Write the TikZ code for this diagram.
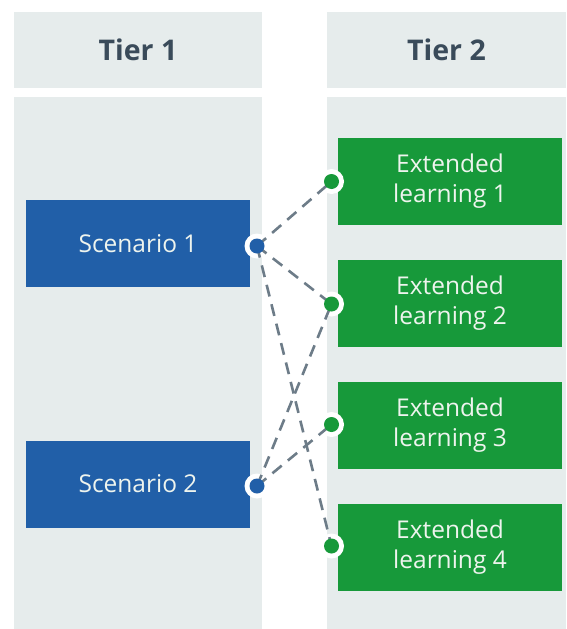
\documentclass[tikz,border=0pt]{standalone}
\usepackage{fontspec}
\setmainfont{Open Sans}
\definecolor{bgc}{HTML}{E6ECEC}
\definecolor{bluec}{HTML}{215FA8}
\definecolor{greenc}{HTML}{17993A}
\definecolor{linec}{HTML}{6D7C88}
\definecolor{headtext}{HTML}{3A4B5A}
\definecolor{boxtext}{HTML}{EEF4EE}
\begin{document}
\begin{tikzpicture}[x=1pt,y=-1pt,
  colbg/.style={fill=bgc,draw=none},
  header/.style={fill=bgc,draw=none,inner sep=0,minimum height=76pt,text=headtext,font=\fontsize{28.5}{30}\selectfont\bfseries},
  card/.style={draw=none,inner sep=0,minimum width=224pt,minimum height=87pt,text=boxtext,align=center,font=\fontsize{24.5}{30.5}\selectfont},
  scen/.style={card,fill=bluec},
  ext/.style={card,fill=greenc},
  link/.style={draw=linec,line width=2.6pt,dash pattern=on 12pt off 8pt},
  halo/.style={circle,fill=white,draw=none,minimum size=25pt,inner sep=0},
  bdot/.style={circle,fill=bluec,draw=none,minimum size=15pt,inner sep=0},
  gdot/.style={circle,fill=greenc,draw=none,minimum size=15pt,inner sep=0}]
\useasboundingbox (0,0) rectangle (566,629);
\fill[white] (0,0) rectangle (566,629);
% headers
\node[header,minimum width=248pt] (h1) at (138,50) {Tier 1};
\node[header,minimum width=239pt] (h2) at (446.5,50) {Tier 2};
% column bodies
\fill[bgc] (14,97) rectangle (262,629);
\fill[bgc] (327,97) rectangle (566,629);
% boxes
\node[scen] (s1) at (138,243.5) {Scenario 1};
\node[scen] (s2) at (138,484) {Scenario 2};
\node[ext] (e1) at (450,181) {Extended\\learning 1};
\node[ext] (e2) at (450,303) {Extended\\learning 2};
\node[ext] (e3) at (450,425) {Extended\\learning 3};
\node[ext] (e4) at (450,547) {Extended\\learning 4};
% connector points
\coordinate (p1) at (257,246);
\coordinate (p2) at (257,486);
\coordinate (q1) at (331.5,181.5);
\coordinate (q2) at (331.5,304);
\coordinate (q3) at (331.5,424.5);
\coordinate (q4) at (331.5,546);
% halos
\foreach \p in {p1,p2,q1,q2,q3,q4} \node[halo] at (\p) {};
% links
\draw[link] (p1) -- (q1);
\draw[link] (p1) -- (q2);
\draw[link] (p1) -- (q4);
\draw[link] (p2) -- (q2);
\draw[link] (p2) -- (q3);
% dots
\node[bdot] (d1) at (p1) {};
\node[bdot] (d2) at (p2) {};
\node[gdot] (g1) at (q1) {};
\node[gdot] (g2) at (q2) {};
\node[gdot] (g3) at (q3) {};
\node[gdot] (g4) at (q4) {};
\end{tikzpicture}
\end{document}
